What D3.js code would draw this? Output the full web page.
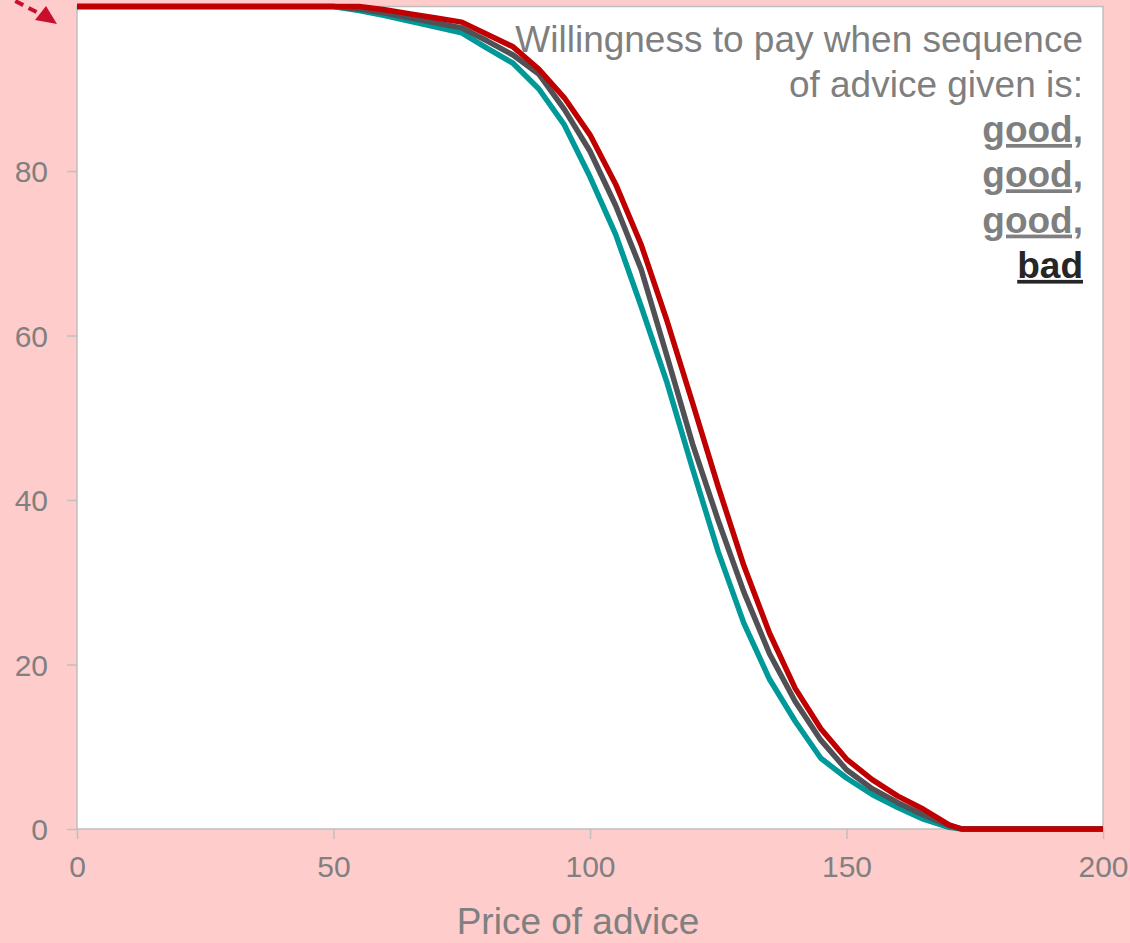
<!DOCTYPE html>
<html lang="en">
<head>
    <meta charset="UTF-8">
    <title>Willingness to pay</title>
    <script src="https://cdn.jsdelivr.net/npm/d3@7"></script>
    <style>
        body{ margin:0; background:#FFCCCC; }
        #chart{ width:1130px; height:943px; display:block; }
        .tick text{ font-family:"Liberation Sans", Arial, sans-serif; font-size:30px; fill:#808080; }
        .tick line{ stroke:#BFBFBF; stroke-width:1.5; }
    </style>
</head>
<body>
<svg id="chart"></svg>
<script>

    // price of advice (x) and willingness to pay (%) per sequence
    const prices     = [0, 10, 20, 30, 40, 50, 55, 60, 65, 70, 75, 80, 85, 90, 95, 100, 105, 110, 115, 120, 125, 130, 135, 140, 145, 150, 155, 160, 165, 170, 172.5, 175, 180, 190, 200]
    const tealValues = [100, 100, 100, 100, 100, 100, 99.5, 98.9, 98.2, 97.5, 96.8, 94.9, 93.1, 90.0, 85.6, 79.3, 72.3, 63.5, 54.3, 43.8, 33.7, 25.0, 18.2, 13.1, 8.6, 6.2, 4.2, 2.6, 1.2, 0.2, 0, 0, 0, 0, 0]
    const grayValues = [100, 100, 100, 100, 100, 100, 99.7, 99.2, 98.6, 98.0, 97.4, 95.8, 94.1, 91.8, 87.5, 82.4, 75.8, 68.0, 57.5, 46.8, 37.5, 28.8, 21.3, 15.5, 10.8, 7.2, 4.9, 3.2, 1.7, 0.4, 0, 0, 0, 0, 0]
    const redValues  = [100, 100, 100, 100, 100, 100, 100, 99.6, 99.1, 98.6, 98.1, 96.6, 95.1, 92.4, 88.9, 84.4, 78.4, 71.0, 61.8, 51.8, 41.6, 32.0, 23.8, 17.1, 12.2, 8.5, 6.0, 4.0, 2.4, 0.5, 0, 0, 0, 0, 0]
    const xTicks = [0, 50, 100, 150, 200]
    const yTicks = [0, 20, 40, 60, 80]
    const noteLines = ["Willingness to pay when sequence", "of advice given is:"]
    const sequence = ["good,", "good,", "good,", "bad"]

    const svg = d3.select("#chart").attr("viewBox", [0, 0, 1130, 943])
    const plot = {left: 77, right: 1103, top: 6.5, bottom: 829}

    const x = d3.scaleLinear().domain([0, 200]).range([plot.left, plot.right])
    const y = d3.scaleLinear().domain([0, 100]).range([plot.bottom, plot.top])

    // plot area
    svg.append("rect")
        .attr("x", plot.left).attr("y", plot.top)
        .attr("width", plot.right - plot.left)
        .attr("height", plot.bottom - plot.top)
        .attr("fill", "white")
        .attr("stroke", "#BFBFBF")
        .attr("stroke-width", 1.5)

    // axes
    const yAxis = svg.append("g")
        .attr("transform", `translate(${plot.left},0)`)
        .call(d3.axisLeft(y).tickValues(yTicks).tickSize(10).tickPadding(19).tickSizeOuter(0))
    yAxis.select(".domain").remove()
    yAxis.selectAll("text").attr("dy", "0.36em")

    const xAxis = svg.append("g")
        .attr("transform", `translate(0,${plot.bottom})`)
        .call(d3.axisBottom(x).tickValues(xTicks).tickSize(10).tickPadding(17).tickSizeOuter(0))
    xAxis.select(".domain").remove()

    svg.append("text")
        .attr("x", 578).attr("y", 934)
        .attr("text-anchor", "middle")
        .attr("font-family", "Liberation Sans, Arial, sans-serif")
        .attr("font-size", 37)
        .attr("fill", "#808080")
        .text("Price of advice")

    // lines
    const line = d3.line().x(d => x(d[0])).y(d => y(d[1]))
    const series = [
        {values: tealValues, color: "#009999"},
        {values: grayValues, color: "#505055"},
        {values: redValues, color: "#C00000"}
    ]
    series.forEach(s => {
        svg.append("path")
            .attr("d", line(prices.map((p, i) => [p, s.values[i]])))
            .attr("fill", "none")
            .attr("stroke", s.color)
            .attr("stroke-width", 5.5)
            .attr("stroke-linejoin", "round")
    })

    // annotation
    const note = svg.append("text")
        .attr("font-family", "Liberation Sans, Arial, sans-serif")
        .attr("font-size", 37)
        .attr("text-anchor", "end")
    noteLines.forEach((t, i) => {
        note.append("tspan").attr("x", 1083).attr("y", 52 + i * 45).attr("fill", "#7F7F7F").text(t)
    })
    sequence.forEach((t, i) => {
        note.append("tspan")
            .attr("x", 1083).attr("y", 142 + i * 45.3)
            .attr("font-weight", "bold")
            .attr("text-decoration", "underline")
            .attr("fill", i === sequence.length - 1 ? "#262626" : "#7F7F7F")
            .text(t)
    })

    // dashed arrow in the corner
    svg.append("line")
        .attr("x1", 2).attr("y1", -6).attr("x2", 44).attr("y2", 16)
        .attr("stroke", "#C8102E")
        .attr("stroke-width", 4)
        .attr("stroke-dasharray", "9,6")
    svg.append("path")
        .attr("d", "M57,24 L35,20 L46,6 Z")
        .attr("fill", "#C8102E")

</script>
</body>
</html>
